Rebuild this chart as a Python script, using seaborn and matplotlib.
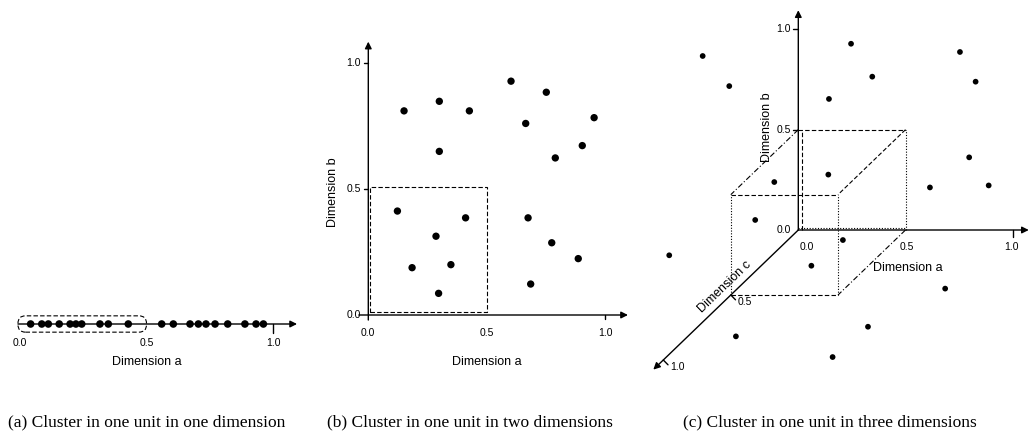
import numpy as np
import pandas as pd
import matplotlib
matplotlib.use("Agg")
import matplotlib.pyplot as plt
import seaborn as sns
from matplotlib.patches import Rectangle, FancyBboxPatch

# ---------------- data ----------------
tick_values = [0.0, 0.5, 1.0]
tick_labels = ["0.0", "0.5", "1.0"]

# (a) one dimension
a1_values = [0.042, 0.086, 0.112, 0.155, 0.198, 0.221, 0.244, 0.316, 0.349, 0.428,
             0.560, 0.606, 0.672, 0.705, 0.735, 0.771, 0.821, 0.889, 0.933, 0.962]

# (b) two dimensions
b2_dim_a = [0.151, 0.300, 0.427, 0.300, 0.603, 0.752, 0.665, 0.954, 0.904, 0.790,
            0.123, 0.411, 0.286, 0.185, 0.349, 0.297, 0.675, 0.775, 0.887, 0.686]
b2_dim_b = [0.811, 0.849, 0.811, 0.650, 0.929, 0.885, 0.761, 0.784, 0.673, 0.624,
            0.413, 0.386, 0.313, 0.188, 0.200, 0.086, 0.386, 0.287, 0.224, 0.123]

# (c) three dimensions, points given in projected (screen-plane) coordinates
c3_proj_x = [-0.446, -0.322, 0.246, 0.345, 0.143, 0.754, 0.827, 0.797, 0.888, 0.614,
             0.140, -0.112, -0.201, 0.208, 0.061, -0.602, 0.685, 0.325, -0.291, 0.160]
c3_proj_y = [0.867, 0.717, 0.928, 0.764, 0.653, 0.887, 0.739, 0.362, 0.222, 0.212,
             0.276, 0.239, 0.050, -0.050, -0.178, -0.126, -0.292, -0.482, -0.530, -0.633]

cluster_unit = 0.5
captions = ["(a) Cluster in one unit in one dimension",
            "(b) Cluster in one unit in two dimensions",
            "(c) Cluster in one unit in three dimensions"]
axis_names = ["Dimension a", "Dimension b", "Dimension c"]

# ---------------- style ----------------
sns.set_theme(style="white")
plt.rcParams['font.family'] = ['Liberation Sans', 'DejaVu Sans']
plt.rcParams['text.color'] = 'black'

W, H = 1030, 434
fig = plt.figure(figsize=(W / 100, H / 100), dpi=100)
fig.patch.set_facecolor("white")

def ax_px(x0, y0, x1, y1):
    """axes from pixel box (top-left origin)"""
    return fig.add_axes([x0 / W, 1 - y1 / H, (x1 - x0) / W, (y1 - y0) / H])

TICK_FS = 7.5
LAB_FS = 9
LW = 1.0
DASH = (0, (4, 2))
DOT = (0, (1, 1.5))
DASHDOT = (0, (5, 2, 1, 2))

def arrow(ax, start, end, lw=LW):
    ax.annotate("", xy=end, xytext=start,
                arrowprops=dict(arrowstyle="-|>", color="black", lw=lw,
                                mutation_scale=10, shrinkA=0, shrinkB=0),
                annotation_clip=False)

# ---------------- (a) ----------------
axa = ax_px(0, 290, 310, 358)
axa.set_xlim((0 - 20) / 253, (310 - 20) / 253)
axa.set_ylim(-1, 1)
axa.axis("off")
arrow(axa, (-0.008, 0), (1.095, 0))
axa.plot([1.0, 1.0], [0, -0.26], color="black", lw=LW)
sns.scatterplot(x=a1_values, y=[0] * len(a1_values), ax=axa, color="black",
                s=30, edgecolor="none", zorder=3, legend=False)
axa.add_patch(FancyBboxPatch((-0.008, -0.24), cluster_unit + 0.008, 0.48,
                             boxstyle="round,pad=0,rounding_size=0.03",
                             mutation_aspect=253 / 34, fill=False,
                             ec="black", lw=0.8, ls=DASH))
for v, t in zip(tick_values, tick_labels):
    axa.text(v, -0.56, t, ha="center", va="center", fontsize=TICK_FS)
axa.text(0.5, -1.12, axis_names[0], ha="center", va="center", fontsize=LAB_FS)

# ---------------- (b) ----------------
axb = ax_px(340, 30, 640, 345)
axb.set_xlim((340 - 368.3) / 236.7, (640 - 368.3) / 236.7)
axb.set_ylim((315 - 345) / 251.7, (315 - 30) / 251.7)
axb.axis("off")
arrow(axb, (-0.04, 0), (1.097, 0))
arrow(axb, (0, -0.02), (0, 1.086))
for v in tick_values[1:]:
    axb.plot([-0.017, 0], [v, v], color="black", lw=LW)
axb.plot([1.0, 1.0], [0, -0.016], color="black", lw=LW)
axb.add_patch(Rectangle((0.008, 0.013), cluster_unit - 0.008, cluster_unit - 0.006,
                        fill=False, ec="black", lw=0.8, ls=DASH))
sns.scatterplot(x=b2_dim_a, y=b2_dim_b, ax=axb, color="black", s=28,
                edgecolor="none", zorder=3, legend=False)
for v, t in zip(tick_values, tick_labels):
    axb.text(v, -0.0715, t, ha="center", va="center", fontsize=TICK_FS)
    axb.text(-0.03, v, t, ha="right", va="center", fontsize=TICK_FS)
axb.text(0.5, -0.187, axis_names[0], ha="center", va="center", fontsize=LAB_FS)
axb.text(-0.15, 0.489, axis_names[1], ha="center", va="center", fontsize=LAB_FS,
         rotation=90)

# ---------------- (c) ----------------
axc = ax_px(650, 0, 1030, 380)
axc.set_xlim((650 - 798.3) / 214.4, (1030 - 798.3) / 214.4)
axc.set_ylim((230 - 380) / 200.7, (230 - 0) / 200.7)
axc.axis("off")
CX, CY = -135 / 214.4, -130 / 200.7   # screen direction of one unit of dimension c

def proj(a, b, c):
    return a + c * CX, b + c * CY

def seg(p, q, ls, lw=0.8):
    p2, q2 = proj(*p), proj(*q)
    axc.plot([p2[0], q2[0]], [p2[1], q2[1]], color="black", lw=lw, ls=ls)

u = cluster_unit
# axes
arrow(axc, proj(0, 0, 0), (1.075, 0))
arrow(axc, proj(0, 0, 0), (0, 1.095))
arrow(axc, proj(0, 0, 0), proj(0, 0, 1.074))
# ticks
for v in tick_values[1:]:
    axc.plot([-0.023, 0], [v, v], color="black", lw=LW)
axc.plot([1.0, 1.0], [0, -0.033], color="black", lw=LW)
for v in tick_values[1:]:
    x0, y0 = proj(0, 0, v)
    axc.plot([x0, x0 + 0.022], [y0, y0 - 0.024], color="black", lw=LW)
# cluster cube
seg((0.0, 0.01, 0), (u, 0.01, 0), DOT)
seg((0.015, 0, 0), (0.015, u, 0), DASH)
seg((0, u, 0), (u, u, 0), DASH)
seg((u, 0, 0), (u, u, 0), DOT)
seg((0, u, u), (u, u, u), DASH)
seg((0, 0, u), (u, 0, u), DASH)
seg((0, 0, u), (0, u, u), DOT)
seg((u, 0, u), (u, u, u), DOT)
seg((0, u, 0), (0, u, u), DASHDOT)
seg((u, u, 0), (u, u, u), DASH)
seg((u, 0, 0), (u, 0, u), DASHDOT)
sns.scatterplot(x=c3_proj_x, y=c3_proj_y, ax=axc, color="black", s=17,
                edgecolor="none", zorder=3, legend=False)
for v, t in zip(tick_values, tick_labels):
    axc.text(-0.035, v, t, ha="right", va="center", fontsize=TICK_FS)
for xv, t in zip([0.039, 0.506, 0.995], tick_labels):
    axc.text(xv, -0.083, t, ha="center", va="center", fontsize=TICK_FS)
for v, t in zip(tick_values[1:], tick_labels[1:]):
    x0, y0 = proj(0, 0, v)
    axc.text(x0 + 0.03, y0 - 0.035, t, ha="left", va="center", fontsize=TICK_FS)
axc.text(0.513, -0.191, axis_names[0], ha="center", va="center", fontsize=LAB_FS)
axc.text(-0.146, 0.513, axis_names[1], ha="center", va="center", fontsize=LAB_FS,
         rotation=90)
axc.text(-0.342, -0.285, axis_names[2], ha="center", va="center", fontsize=LAB_FS,
         rotation=44, rotation_mode="anchor")

# ---------------- captions ----------------
for xpx, cap in zip([8, 327, 683], captions):
    fig.text(xpx / W, 1 - 422 / H, cap, ha="left", va="center", fontsize=12.5,
             family=["Liberation Serif", "DejaVu Serif"])

fig.savefig("out.png", dpi=100, facecolor="white")
